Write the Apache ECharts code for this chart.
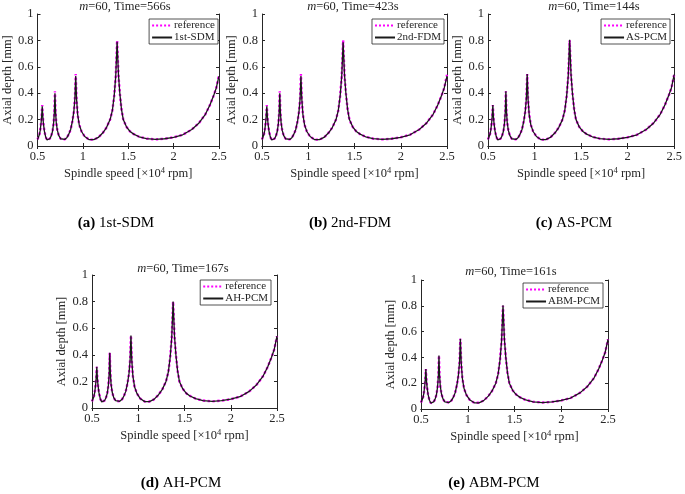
<!DOCTYPE html>
<html>
<head>
<meta charset="utf-8">
<script src="https://cdn.jsdelivr.net/npm/echarts@6/dist/echarts.min.js"></script>
<style>
html,body{margin:0;padding:0;background:#fff;}
#chart{width:685px;height:494px;}
</style>
</head>
<body>
<div id="chart"></div>
<script>
// ---------- data ----------
const speed = [0.50,0.51,0.52,0.53,0.54,0.546,0.552,0.558,0.565,0.575,0.59,0.605,0.62,0.635,0.65,0.665,0.677,0.686,0.692,0.698,0.706,0.718,0.735,0.755,0.775,0.80,0.825,0.845,0.865,0.885,0.90,0.912,0.921,0.93,0.942,0.96,0.985,1.02,1.07,1.12,1.17,1.22,1.26,1.30,1.325,1.345,1.362,1.377,1.392,1.407,1.425,1.445,1.48,1.52,1.56,1.62,1.70,1.80,1.90,2.00,2.10,2.20,2.28,2.35,2.40,2.44,2.47,2.50];
const refDepth    = [0.05,0.063,0.085,0.12,0.18,0.235,0.31,0.225,0.17,0.115,0.068,0.046,0.045,0.055,0.075,0.11,0.17,0.26,0.415,0.27,0.18,0.12,0.078,0.055,0.045,0.05,0.065,0.09,0.125,0.19,0.26,0.36,0.545,0.36,0.24,0.16,0.11,0.072,0.048,0.048,0.065,0.10,0.14,0.20,0.27,0.38,0.53,0.80,0.54,0.40,0.28,0.20,0.145,0.11,0.09,0.07,0.056,0.05,0.055,0.066,0.085,0.125,0.175,0.24,0.31,0.38,0.44,0.54];
const sdmDepth    = [0.05,0.063,0.085,0.12,0.18,0.235,0.30,0.225,0.17,0.115,0.068,0.046,0.045,0.055,0.075,0.11,0.17,0.26,0.40,0.27,0.18,0.12,0.078,0.055,0.045,0.05,0.065,0.09,0.125,0.19,0.26,0.36,0.53,0.36,0.24,0.16,0.11,0.072,0.048,0.048,0.065,0.10,0.14,0.20,0.27,0.38,0.53,0.79,0.54,0.40,0.28,0.20,0.145,0.11,0.09,0.07,0.056,0.05,0.055,0.066,0.085,0.125,0.175,0.24,0.31,0.38,0.44,0.53];
const fdmDepth    = [0.05,0.063,0.085,0.12,0.18,0.235,0.30,0.225,0.17,0.115,0.068,0.046,0.045,0.055,0.075,0.11,0.17,0.26,0.40,0.27,0.18,0.12,0.078,0.055,0.045,0.05,0.065,0.09,0.125,0.19,0.26,0.36,0.53,0.36,0.24,0.16,0.11,0.072,0.048,0.048,0.065,0.10,0.14,0.20,0.27,0.38,0.53,0.785,0.54,0.40,0.28,0.20,0.145,0.11,0.09,0.07,0.056,0.05,0.055,0.066,0.085,0.125,0.175,0.24,0.31,0.38,0.44,0.53];
const aspcmDepth  = [0.05,0.063,0.085,0.12,0.18,0.235,0.31,0.225,0.17,0.115,0.068,0.046,0.045,0.055,0.075,0.11,0.17,0.26,0.415,0.27,0.18,0.12,0.078,0.055,0.045,0.05,0.065,0.09,0.125,0.19,0.26,0.36,0.545,0.36,0.24,0.16,0.11,0.072,0.048,0.048,0.065,0.10,0.14,0.20,0.27,0.38,0.53,0.805,0.54,0.40,0.28,0.20,0.145,0.11,0.09,0.07,0.056,0.05,0.055,0.066,0.085,0.125,0.175,0.24,0.31,0.38,0.44,0.54];
const ahpcmDepth  = [0.05,0.063,0.085,0.12,0.18,0.235,0.31,0.225,0.17,0.115,0.068,0.046,0.045,0.055,0.075,0.11,0.17,0.26,0.415,0.27,0.18,0.12,0.078,0.055,0.045,0.05,0.065,0.09,0.125,0.19,0.26,0.36,0.545,0.36,0.24,0.16,0.11,0.072,0.048,0.048,0.065,0.10,0.14,0.20,0.27,0.38,0.53,0.80,0.54,0.40,0.28,0.20,0.145,0.11,0.09,0.07,0.056,0.05,0.055,0.066,0.085,0.125,0.175,0.24,0.31,0.38,0.44,0.54];
const abmpcmDepth = [0.05,0.063,0.085,0.12,0.18,0.235,0.31,0.225,0.17,0.115,0.068,0.046,0.045,0.055,0.075,0.11,0.17,0.26,0.415,0.27,0.18,0.12,0.078,0.055,0.045,0.05,0.065,0.09,0.125,0.19,0.26,0.36,0.545,0.36,0.24,0.16,0.11,0.072,0.048,0.048,0.065,0.10,0.14,0.20,0.27,0.38,0.53,0.805,0.54,0.40,0.28,0.20,0.145,0.11,0.09,0.07,0.056,0.05,0.055,0.066,0.085,0.125,0.175,0.24,0.31,0.38,0.44,0.54];

const methodNames = ['1st-SDM','2nd-FDM','AS-PCM','AH-PCM','ABM-PCM'];
const methodDepths = [sdmDepth, fdmDepth, aspcmDepth, ahpcmDepth, abmpcmDepth];
const timeLabels = ['566s','423s','144s','167s','161s'];
const captionTags = ['(a)','(b)','(c)','(d)','(e)'];
const mValue = '60';
const xTickStep = 0.5;
const yTickStep = 0.2;

// ---------- layout (positions only) ----------
const layout = [
  {left:33,  top:14,  width:186, height:132, titleX:125, titleY:7,   legRight:467, legTop:19,  capX:116, capY:223, yGap:18.5},
  {left:262, top:14,  width:185, height:132, titleX:353, titleY:7,   legRight:241, legTop:19,  capX:350, capY:223, yGap:19.5},
  {left:488, top:14,  width:190, height:132, titleX:594, titleY:7,   legRight:15,  legTop:19,  capX:574, capY:223, yGap:17.5},
  {left:92,  top:275, width:185, height:133, titleX:183, titleY:269, legRight:414, legTop:280, capX:181, capY:483, yGap:20},
  {left:421, top:280, width:187, height:129, titleX:511, titleY:272, legRight:82,  legTop:283, capX:494, capY:483, yGap:19.5}
];

const FONT = '"Liberation Serif", "DejaVu Serif", serif';
const AX = '#262626';

const grid = [], xAxis = [], yAxis = [], series = [], legend = [], graphic = [];
layout.forEach((p, i) => {
  grid.push({left:p.left, top:p.top, width:p.width, height:p.height, containLabel:false});
  const common = {
    axisLine:{show:true, lineStyle:{color:AX, width:1}},
    axisTick:{show:true, inside:true, length:3, lineStyle:{color:AX, width:1}},
    splitLine:{show:false}
  };
  xAxis.push(Object.assign({}, common, {
    type:'value', gridIndex:i, position:'bottom', min:0.5, max:2.5, interval:xTickStep,
    axisLabel:{show:true, color:AX, fontFamily:FONT, fontSize:12.5, margin:4},
    name:'Spindle speed [×10{sup|4} rpm]', nameLocation:'middle', nameGap:20,
    nameTextStyle:{color:AX, fontFamily:FONT, fontSize:12.5,
      rich:{sup:{fontSize:8.5, fontFamily:FONT, color:AX, verticalAlign:'bottom', padding:[0,0,7,0]}}}
  }));
  xAxis.push(Object.assign({}, common, {
    type:'value', gridIndex:i, position:'top', min:0.5, max:2.5, interval:xTickStep,
    axisLabel:{show:false}
  }));
  yAxis.push(Object.assign({}, common, {
    type:'value', gridIndex:i, position:'left', min:0, max:1, interval:yTickStep,
    axisLabel:{show:true, color:AX, fontFamily:FONT, fontSize:12.5, margin:4},
    name:'Axial depth [mm]', nameLocation:'middle', nameGap:p.yGap,
    nameTextStyle:{color:AX, fontFamily:FONT, fontSize:12.5}
  }));
  yAxis.push(Object.assign({}, common, {
    type:'value', gridIndex:i, position:'right', min:0, max:1, interval:yTickStep,
    axisLabel:{show:false}
  }));
  const refName = 'reference';
  series.push({
    name:refName, type:'line', xAxisIndex:2*i, yAxisIndex:2*i,
    data:speed.map((s,k)=>[s, refDepth[k]]),
    symbol:'none', showSymbol:false, smooth:false, z:2,
    lineStyle:{color:'#ff00ff', width:2.4, type:'dotted'},
    itemStyle:{color:'#ff00ff'}
  });
  series.push({
    name:methodNames[i], type:'line', xAxisIndex:2*i, yAxisIndex:2*i,
    data:speed.map((s,k)=>[s, methodDepths[i][k]]),
    symbol:'none', showSymbol:false, smooth:false, z:3,
    lineStyle:{color:'#1a1a1a', width:1.3, type:'solid'},
    itemStyle:{color:'#1a1a1a'}
  });
  legend.push({
    data:[refName, methodNames[i]], orient:'vertical', right:p.legRight, top:p.legTop,
    itemWidth:20, itemHeight:10, itemGap:1, padding:[1,3,1,2],
    backgroundColor:'#fff', borderColor:AX, borderWidth:0.8,
    itemStyle:{opacity:0},
    textStyle:{color:AX, fontFamily:FONT, fontSize:11, padding:[0,0,0,-3]},
    selectedMode:false
  });
  graphic.push({
    type:'text', x:p.titleX, y:p.titleY,
    style:{text:'{i|m}=' + mValue + ', Time=' + timeLabels[i], align:'center', verticalAlign:'middle',
      fill:AX, font:'12.5px ' + FONT,
      rich:{i:{fontStyle:'italic', fontFamily:FONT, fontSize:12.5, fill:AX}}}
  });
  graphic.push({
    type:'text', x:p.capX, y:p.capY,
    style:{text:'{b|' + captionTags[i] + '} ' + methodNames[i], align:'center', verticalAlign:'middle',
      fill:'#000', font:'15px ' + FONT,
      rich:{b:{fontWeight:'bold', fontFamily:FONT, fontSize:15, fill:'#000'}}}
  });
});

const chart = echarts.init(document.getElementById('chart'), null, {renderer:'canvas'});
chart.setOption({
  animation:false,
  backgroundColor:'#fff',
  grid, xAxis, yAxis, series, legend, graphic
});
</script>
</body>
</html>
